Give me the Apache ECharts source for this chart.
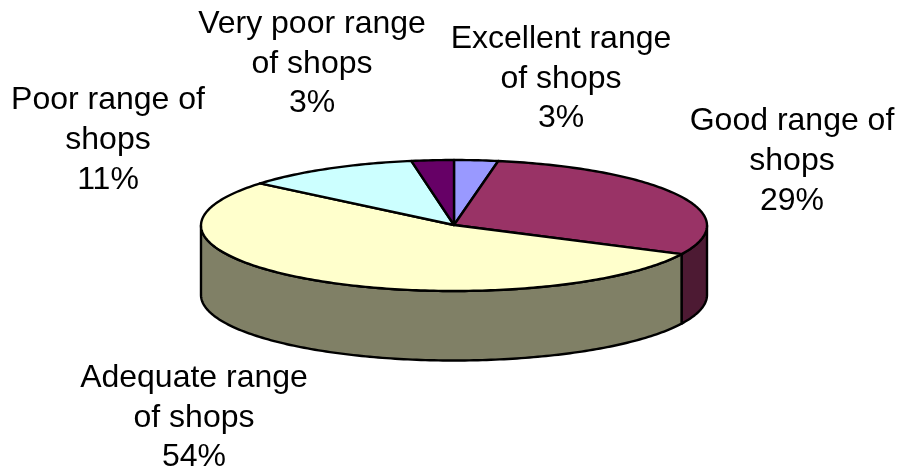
<!DOCTYPE html>
<html>
<head>
<meta charset="utf-8">
<title>Range of shops</title>
<style>
html, body { margin: 0; padding: 0; background: #fff; }
#chart { width: 903px; height: 473px; }
</style>
<script src="https://cdn.jsdelivr.net/npm/echarts@6/dist/echarts.min.js"></script>
</head>
<body>
<div id="chart"></div>
<script>
// slices, clockwise from 12 o'clock
const labelLines = [
    ['Excellent range', 'of shops'],
    ['Good range of', 'shops'],
    ['Adequate range', 'of shops'],
    ['Poor range of', 'shops'],
    ['Very poor range', 'of shops']
];
const shares = [2.8, 29.4, 53.9, 11.2, 2.7];
const topColors = ['#9999ff', '#993366', '#ffffcc', '#ccffff', '#660066'];
const sideColors = ['#4d4d80', '#4d1a33', '#808066', '#668080', '#330033'];

// where each label block sits (centre x, middle of first line y)
const labelX = [561, 792, 194, 108, 312];
const labelY = [39, 121.5, 378, 100.5, 24];
const LINE_HEIGHT = 39.8;

const CX = 454;
const CY = 225.5;
const RX = 253;
const RY = 65.5;
const DEPTH = 69.5;

const total = shares.reduce((a, b) => a + b, 0);
const starts = shares.map((v, i) => shares.slice(0, i).reduce((a, b) => a + b, 0));

const rim = (deg, dy) => {
    const t = deg * Math.PI / 180;
    return [CX + RX * Math.sin(t), CY - RY * Math.cos(t) + (dy || 0)];
};

const arcPoints = (from, to, dy) => {
    const n = Math.max(2, Math.ceil(Math.abs(to - from)));
    const pts = [];
    for (let i = 0; i <= n; i++) {
        pts.push(rim(from + (to - from) * i / n, dy));
    }
    return pts;
};

const lineStyle = { stroke: '#000', lineWidth: 2.4, lineJoin: 'round' };

const renderSlice = (params, api) => {
    const i = params.dataIndex;
    const from = api.value(1) / total * 360;
    const to = from + api.value(0) / total * 360;
    const children = [];

    // side wall, only the part of the rim facing the viewer (90..270 deg)
    const sideFrom = Math.max(from, 90);
    const sideTo = Math.min(to, 270);
    if (sideTo > sideFrom) {
        const pts = arcPoints(sideFrom, sideTo, 0).concat(arcPoints(sideTo, sideFrom, DEPTH));
        children.push({
            type: 'polygon',
            z2: 1,
            shape: { points: pts },
            style: Object.assign({ fill: sideColors[i] }, lineStyle)
        });
    }

    children.push({
        type: 'polygon',
        z2: 2,
        shape: { points: [[CX, CY - 0.5]].concat(arcPoints(from, to, 0)) },
        style: Object.assign({ fill: topColors[i] }, lineStyle)
    });

    const lines = labelLines[i].concat(Math.round(api.value(0)) + '%');
    lines.forEach((line, k) => {
        children.push({
            type: 'text',
            z2: 3,
            style: {
                text: line,
                x: labelX[i],
                y: labelY[i] + k * LINE_HEIGHT,
                align: 'center',
                verticalAlign: 'middle',
                fill: '#000',
                font: '32px "Liberation Sans", Arial, sans-serif'
            }
        });
    });

    return { type: 'group', children: children };
};

const chart = echarts.init(document.getElementById('chart'));
chart.setOption({
    animation: false,
    backgroundColor: '#ffffff',
    series: [{
        type: 'custom',
        coordinateSystem: 'none',
        silent: true,
        renderItem: renderSlice,
        data: shares.map((v, i) => [v, starts[i]])
    }]
});
</script>
</body>
</html>
